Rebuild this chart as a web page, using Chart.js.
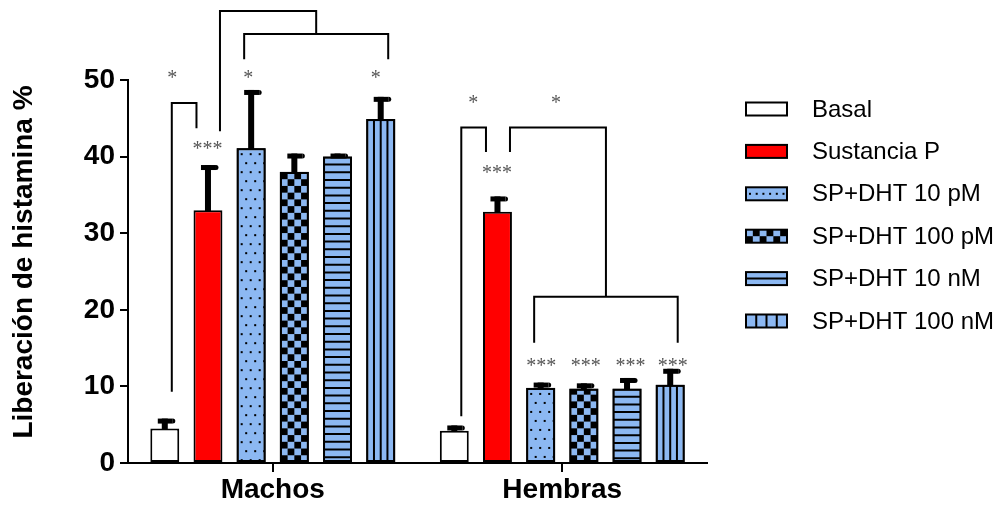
<!DOCTYPE html>
<html>
<head>
<meta charset="utf-8">
<script src="https://cdn.jsdelivr.net/npm/chart.js@4.4.0/dist/chart.umd.min.js"></script>
<style>
  html, body { margin: 0; padding: 0; background: #fff; }
  #wrap { width: 1004px; height: 506px; }
</style>
</head>
<body>
<div id="wrap"><canvas id="c" width="1004" height="506"></canvas></div>
<script>
// ---- data ----
const groups = ['Machos', 'Hembras'];
const seriesNames = ['Basal', 'Sustancia P', 'SP+DHT 10 pM', 'SP+DHT 100 pM', 'SP+DHT 10 nM', 'SP+DHT 100 nM'];
const basal      = [4.5, 4.2];
const sustanciaP = [33.0, 32.8];
const dht10pM    = [41.1, 9.8];
const dht100pM   = [38.0, 9.7];
const dht10nM    = [40.0, 9.7];
const dht100nM   = [44.9, 10.2];
// SEM (upper error bars)
const basalSem      = [1.3, 0.7];
const sustanciaPSem = [5.9, 2.0];
const dht10pMSem    = [7.6, 0.7];
const dht100pMSem   = [2.4, 0.7];
const dht10nMSem    = [0.4, 1.4];
const dht100nMSem   = [2.9, 2.1];
const yTicks = [0, 10, 20, 30, 40, 50];
const yTitle = 'Liberación de histamina %';

const seriesValues = [basal, sustanciaP, dht10pM, dht100pM, dht10nM, dht100nM];
const seriesSem = [basalSem, sustanciaPSem, dht10pMSem, dht100pMSem, dht10nMSem, dht100nMSem];

// ---- styles ----
const BLUE = '#8CB8F2';
const fills = ['#ffffff', '#ff0000', BLUE, BLUE, BLUE, BLUE];
const patterns = [null, null, 'dots', 'checker', 'hlines', 'vlines'];

// ---- significance marks: [group, series, dx, value] points of each bracket path ----
// ['mid', value] points sit above the centre of the next bracket in the list
const brackets = [
  [[0, 0, 7, 9.3], [0, 0, 7, 47.0], [0, 1, -11.5, 47.0], [0, 1, -11.5, 43.7]],
  [[0, 1, 12, 43.3], [0, 1, 12, 59.0], ['mid', 59.0], ['mid', 56.0]],
  [[0, 2, -7, 52.7], [0, 2, -7, 56.0], [0, 5, 7.5, 56.0], [0, 5, 7.5, 52.7]],
  [[1, 0, 7, 6.1], [1, 0, 7, 43.8], [1, 1, -11.5, 43.8], [1, 1, -11.5, 40.6]],
  [[1, 1, 12.5, 40.6], [1, 1, 12.5, 43.8], ['mid', 43.8], ['mid', 21.7]],
  [[1, 2, -6.5, 15.7], [1, 2, -6.5, 21.7], [1, 5, 7.5, 21.7], [1, 5, 7.5, 15.7]]
];
// stars: [group, series, dx, value, text]
const stars = [
  [0, 0, 7.5, 50.8, '*'],
  [0, 1, -0.5, 41.5, '***'],
  [0, 2, -3, 50.8, '*'],
  [0, 5, -5, 50.8, '*'],
  [1, 0, 19, 47.5, '*'],
  [1, 1, -0.5, 38.4, '***'],
  [1, 1, 58.5, 47.5, '*'],
  [1, 2, 0.5, 13.2, '***'],
  [1, 3, 2, 13.2, '***'],
  [1, 4, 3.5, 13.2, '***'],
  [1, 5, 2.5, 13.2, '***']
];

function fillPattern(ctx, kind, l, t, w, h, legend) {
  ctx.save();
  ctx.beginPath();
  ctx.rect(l, t, w, h);
  ctx.clip();
  ctx.fillStyle = '#000';
  ctx.strokeStyle = '#000';
  if (kind === 'dots') {
    if (legend) {
      for (let x = l + 3; x < l + w; x += 6.7) ctx.fillRect(x, t + h / 2 - 1, 2, 2);
    } else {
      let r = 0;
      for (let y = t + 4; y < t + h; y += 9, r++) {
        const off = (r % 2) ? 4.5 : 0;
        for (let x = l + 3 + off; x < l + w; x += 9) ctx.fillRect(x, y, 2, 2);
      }
    }
  } else if (kind === 'checker') {
    const s = legend ? h / 2 : w / 4;
    const sx = legend ? w / 6 : s;
    let r = 0;
    for (let y = t + h; y > t - s; y -= s, r++) {
      let c = 0;
      for (let x = l; x < l + w; x += sx, c++) {
        if ((r + c) % 2 === 0) ctx.fillRect(x, y - s, sx, s);
      }
    }
  } else if (kind === 'hlines') {
    ctx.lineWidth = 2;
    if (legend) {
      ctx.beginPath(); ctx.moveTo(l, t + h / 2); ctx.lineTo(l + w, t + h / 2); ctx.stroke();
    } else {
      for (let y = t + 7; y < t + h; y += 7.7) {
        ctx.beginPath(); ctx.moveTo(l, y); ctx.lineTo(l + w, y); ctx.stroke();
      }
    }
  } else if (kind === 'vlines') {
    ctx.lineWidth = 2;
    for (let k = 1; k < 4; k++) {
      const x = l + w * k / 4;
      ctx.beginPath(); ctx.moveTo(x, t); ctx.lineTo(x, t + h); ctx.stroke();
    }
  }
  ctx.restore();
}

const decorations = {
  id: 'decorations',
  afterDatasetsDraw(chart) {
    const ctx = chart.ctx;
    const y = chart.scales.y;
    // patterns inside bars
    chart.data.datasets.forEach((ds, di) => {
      const meta = chart.getDatasetMeta(di);
      meta.data.forEach((el) => {
        const p = el.getProps(['x', 'y', 'base', 'width'], true);
        if (patterns[di]) {
          fillPattern(ctx, patterns[di], p.x - p.width / 2 + 1, p.y + 1, p.width - 2, p.base - p.y - 1, false);
          ctx.save();
          ctx.strokeStyle = '#000';
          ctx.lineWidth = 2;
          ctx.strokeRect(p.x - p.width / 2 + 1, p.y + 1, p.width - 2, p.base - p.y - 1);
          ctx.restore();
        }
      });
    });
    // error bars
    ctx.save();
    ctx.fillStyle = '#000';
    chart.data.datasets.forEach((ds, di) => {
      const meta = chart.getDatasetMeta(di);
      meta.data.forEach((el, i) => {
        const top = y.getPixelForValue(seriesValues[di][i] + seriesSem[di][i]);
        const bx = el.x;
        ctx.fillRect(bx - 3, top, 6, el.y - top + 1);
        ctx.fillRect(bx - 7, top, 15, 5);
        ctx.beginPath();
        ctx.arc(bx + 8, top + 2.5, 2.5, -Math.PI / 2, Math.PI / 2);
        ctx.fill();
      });
    });
    ctx.restore();

    const px = (pt) => chart.getDatasetMeta(pt[1]).data[pt[0]].x + pt[2];
    // brackets
    ctx.save();
    ctx.strokeStyle = '#000';
    ctx.lineWidth = 2;
    ctx.lineJoin = 'miter';
    ctx.lineCap = 'butt';
    brackets.forEach((path, bi) => {
      ctx.beginPath();
      path.forEach((pt, k) => {
        let xx, vv;
        if (pt[0] === 'mid') {
          const lower = brackets[bi + 1];
          xx = (px(lower[0]) + px(lower[3])) / 2;
          vv = pt[1];
        } else {
          xx = px(pt);
          vv = pt[3];
        }
        const yy = y.getPixelForValue(vv);
        if (k === 0) ctx.moveTo(xx, yy); else ctx.lineTo(xx, yy);
      });
      ctx.stroke();
    });
    ctx.restore();

    // asterisks
    ctx.save();
    ctx.fillStyle = '#555';
    ctx.font = '20px "Liberation Serif"';
    ctx.textAlign = 'center';
    ctx.textBaseline = 'alphabetic';
    stars.forEach((s) => {
      const xx = chart.getDatasetMeta(s[1]).data[s[0]].x + s[2];
      const yy = y.getPixelForValue(s[3]);
      ctx.fillText(s[4], xx, yy + 10);
    });
    ctx.restore();
  },
  afterDraw(chart) {
    const ctx = chart.ctx;
    // y-axis title
    ctx.save();
    ctx.translate(24, 262);
    ctx.rotate(-Math.PI / 2);
    ctx.fillStyle = '#000';
    ctx.font = 'bold 28px "Liberation Sans"';
    ctx.textAlign = 'center';
    ctx.textBaseline = 'middle';
    ctx.fillText(yTitle, 0, 0);
    ctx.restore();
    // legend
    const bx = 746, bw = 41, bh = 13, tx = 812, y0 = 109, step = 42.4;
    ctx.save();
    chart.data.datasets.forEach((ds, di) => {
      const cy = y0 + di * step;
      const t = cy - bh / 2;
      ctx.fillStyle = fills[di];
      ctx.fillRect(bx, t, bw, bh);
      if (patterns[di]) fillPattern(ctx, patterns[di], bx, t, bw, bh, true);
      ctx.strokeStyle = '#000';
      ctx.lineWidth = 2;
      ctx.strokeRect(bx, t, bw, bh);
      ctx.fillStyle = '#000';
      ctx.font = '24px "Liberation Sans"';
      ctx.textAlign = 'left';
      ctx.textBaseline = 'middle';
      ctx.fillText(ds.label, tx, cy + 1);
    });
    ctx.restore();
  }
};

new Chart(document.getElementById('c'), {
  type: 'bar',
  data: {
    labels: groups,
    datasets: seriesNames.map((name, i) => ({
      label: name,
      data: seriesValues[i],
      backgroundColor: fills[i],
      borderColor: '#000',
      borderWidth: 2,
      borderSkipped: false,
      categoryPercentage: 0.895,
      barPercentage: 0.67
    }))
  },
  options: {
    responsive: false,
    animation: false,
    devicePixelRatio: 1,
    layout: { padding: { top: 80, right: 297, left: 0, bottom: 0 } },
    plugins: { legend: { display: false }, tooltip: { enabled: false } },
    scales: {
      x: {
        grid: { display: true, drawOnChartArea: false, offset: false, tickLength: 9, color: '#000', lineWidth: 2 },
        border: { display: true, color: '#000', width: 2 },
        ticks: { color: '#000', font: { family: 'Liberation Sans', size: 28, weight: 'bold' }, padding: 1 },
        afterFit(scale) { scale.height = 43; }
      },
      y: {
        min: 0,
        max: 50,
        afterBuildTicks(scale) { scale.ticks = yTicks.map(v => ({ value: v })); },
        grid: { display: true, drawOnChartArea: false, tickLength: 8, color: '#000', lineWidth: 2 },
        border: { display: true, color: '#000', width: 2 },
        ticks: { color: '#000', font: { family: 'Liberation Sans', size: 28, weight: 'bold' }, padding: 5 },
        afterFit(scale) { scale.width = 128; }
      }
    }
  },
  plugins: [decorations]
});
</script>
</body>
</html>
